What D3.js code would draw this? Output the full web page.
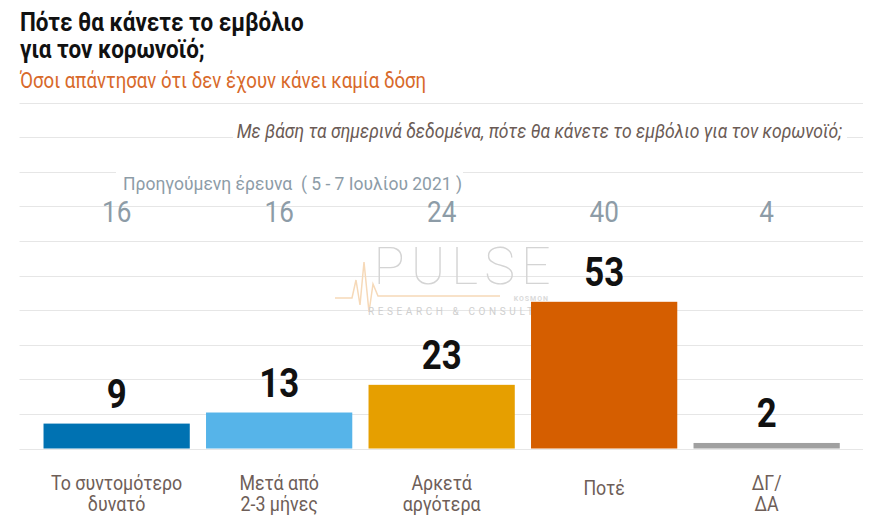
<!DOCTYPE html>
<html>
<head>
<meta charset="utf-8">
<script src="https://cdn.jsdelivr.net/npm/d3@7"></script>
<style>
  html, body { margin: 0; padding: 0; background: #fff; }
  svg { display: block; font-family: Roboto, "Noto Sans", sans-serif; }
</style>
</head>
<body>
<svg id="chart" width="887" height="523"></svg>
<script>
// ---- data ----
const categories = [["Το συντομότερο", "δυνατό"], ["Μετά από", "2-3 μήνες"], ["Αρκετά", "αργότερα"], ["Ποτέ"], ["ΔΓ/", "ΔΑ"]];
const currentValues = [9, 13, 23, 53, 2];
const previousValues = [16, 16, 24, 40, 4];
const barColors = ["#0072B2", "#56B4E9", "#E69F00", "#D55E00", "#A0A0A0"];
const gridTicks = d3.range(0, 126, 12.5);
const titleLines = ["Πότε θα κάνετε το εμβόλιο", "για τον κορωνοϊό;"];
const subtitle = "Όσοι απάντησαν ότι δεν έχουν κάνει καμία δόση";
const question = "Με βάση τα σημερινά δεδομένα, πότε θα κάνετε το εμβόλιο για τον κορωνοϊό;";
const previousLabel = "Προηγούμενη έρευνα  ( 5 - 7 Ιουλίου 2021 )";

const SX = 0.87; // horizontal condense factor to mimic Roboto Condensed
const svg = d3.select("#chart");

const x = d3.scaleBand().domain(d3.range(categories.length))
  .range([35.4, 847.9]).paddingInner(0.1).paddingOuter(0.05);
const y = d3.scaleLinear().domain([0, 125]).range([448.5, 102.5]);

function ctext(g, str, px, py, opts) {
  const sx = opts.sx !== undefined ? opts.sx : SX;
  return g.append("text")
    .attr("transform", `translate(${px},${py}) scale(${sx},1)`)
    .attr("text-anchor", opts.anchor || "start")
    .attr("font-size", opts.size)
    .attr("font-weight", opts.weight || 400)
    .attr("font-style", opts.style || "normal")
    .attr("fill", opts.fill)
    .style("white-space", "pre")
    .text(str);
}

// gridlines
const grid = svg.append("g");
grid.selectAll("line").data(gridTicks).join("line")
  .attr("x1", 19.5).attr("x2", 863)
  .attr("y1", d => Math.round(y(d)) + 0.5).attr("y2", d => Math.round(y(d)) + 0.5)
  .attr("stroke", "#e6e6e6").attr("stroke-width", 1);

// watermark
const wm = svg.append("g");
const hb = d3.line();
const hbPts = [[335, 298], [352, 298], [356, 280], [360, 305], [364, 262], [369, 312], [373, 284], [378, 296], [500, 296]];
wm.append("path").attr("d", hb(hbPts)).attr("fill", "none").attr("stroke", "#f6d9b8").attr("stroke-width", 1.5);
wm.append("text").attr("x", 465).attr("y", 284).attr("text-anchor", "middle")
  .attr("font-size", 52).attr("font-weight", 100).attr("letter-spacing", 6)
  .attr("fill", "#d4d4d4").text("PULSE");
wm.append("text").attr("x", 466).attr("y", 315).attr("text-anchor", "middle")
  .attr("font-size", 10).attr("letter-spacing", 3.6)
  .attr("fill", "#cfcfcf").text("RESEARCH & CONSULTING");
wm.append("text").attr("x", 549).attr("y", 301).attr("text-anchor", "end")
  .attr("font-size", 7).attr("font-weight", 700).attr("letter-spacing", 1)
  .attr("fill", "#dadada").text("KOSMON");

// bars
svg.append("g").selectAll("rect").data(currentValues).join("rect")
  .attr("x", (d, i) => x(i)).attr("width", x.bandwidth())
  .attr("y", d => y(d)).attr("height", d => y(0) - y(d))
  .attr("fill", (d, i) => barColors[i]);

// value labels
const vl = svg.append("g");
currentValues.forEach((v, i) => {
  ctext(vl, String(v), x(i) + x.bandwidth() / 2, y(v) - 16, { anchor: "middle", size: 40, weight: 700, fill: "#111" });
});

// previous values
const pv = svg.append("g");
previousValues.forEach((v, i) => {
  ctext(pv, String(v), x(i) + x.bandwidth() / 2, 222, { anchor: "middle", size: 30, weight: 400, fill: "#8d9ca7" });
});

// previous label with white background
const plg = svg.append("g");
plg.append("rect").attr("x", 116).attr("y", 172).attr("width", 347).attr("height", 24).attr("fill", "#fff");
ctext(plg, previousLabel, 123, 190, { size: 17.5, sx: 1, fill: "#8d9ca7" });

// question with white background
const qg = svg.append("g");
qg.append("rect").attr("x", 233).attr("y", 120).attr("width", 614).attr("height", 24).attr("fill", "#fff");
ctext(qg, question, 842, 138, { anchor: "end", size: 20.2, style: "italic", fill: "#6b5b55" });

// x labels
const xl = svg.append("g");
categories.forEach((lines, i) => {
  const cx = x(i) + x.bandwidth() / 2;
  const base = lines.length === 1 ? 495 : 489.5;
  lines.forEach((ln, j) => {
    ctext(xl, ln, cx, base + j * 21.5, { anchor: "middle", size: 20, sx: 0.89, fill: "#6e5e58" });
  });
});

// titles
const tg = svg.append("g");
titleLines.forEach((ln, j) => {
  ctext(tg, ln, 20, 31 + j * 27, { size: 25.8, weight: 700, fill: "#111" });
});
ctext(tg, subtitle, 20, 88, { size: 21.4, fill: "#d8692a" });
</script>
</body>
</html>
